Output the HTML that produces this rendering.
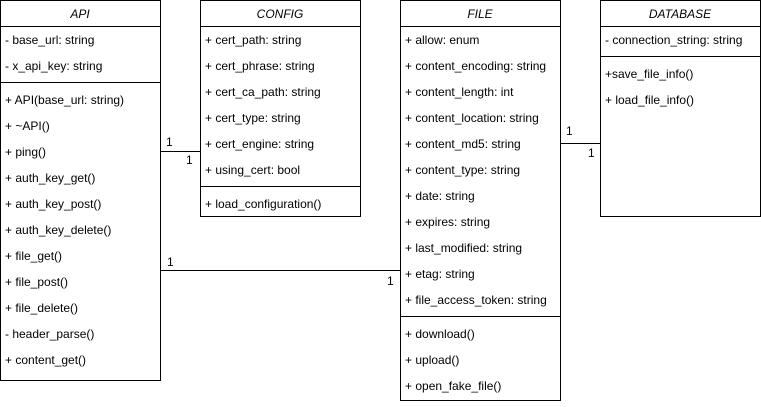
<!DOCTYPE html>
<html><head><style>
html,body{margin:0;padding:0;background:#fff;}
svg text{font-family:"Liberation Sans",Arial,sans-serif;font-size:12px;fill:#000;}
.h{font-style:italic;text-anchor:middle;}
</style></head><body>
<svg width="761" height="402" viewBox="0 0 761 402" xmlns="http://www.w3.org/2000/svg">
<g fill="#fff" stroke="#000" stroke-width="1">
<rect x="0.5" y="0.5" width="160" height="380"/>
<rect x="200.5" y="0.5" width="160" height="216"/>
<rect x="400.5" y="0.5" width="160" height="400"/>
<rect x="600.5" y="0.5" width="160" height="216"/>
</g>
<g stroke="#000" stroke-width="1">
<line x1="0" y1="26.5" x2="161" y2="26.5"/>
<line x1="0" y1="82.5" x2="161" y2="82.5"/>
<line x1="200" y1="26.5" x2="361" y2="26.5"/>
<line x1="200" y1="186.5" x2="361" y2="186.5"/>
<line x1="400" y1="26.5" x2="561" y2="26.5"/>
<line x1="400" y1="316.5" x2="561" y2="316.5"/>
<line x1="600" y1="26.5" x2="761" y2="26.5"/>
<line x1="600" y1="56.5" x2="761" y2="56.5"/>
<line x1="161" y1="151.5" x2="200" y2="151.5"/>
<line x1="161" y1="270.5" x2="400" y2="270.5"/>
<line x1="561" y1="143.5" x2="600" y2="143.5"/>
</g>
<text class="h" x="80" y="18">API</text>
<text class="h" x="280" y="18">CONFIG</text>
<text class="h" x="480" y="18">FILE</text>
<text class="h" x="680" y="18">DATABASE</text>
<g>
<text x="5" y="44">- base_url: string</text>
<text x="5" y="70">- x_api_key: string</text>
<text x="5" y="104">+ API(base_url: string)</text>
<text x="5" y="130">+ ~API()</text>
<text x="5" y="156">+ ping()</text>
<text x="5" y="182">+ auth_key_get()</text>
<text x="5" y="208">+ auth_key_post()</text>
<text x="5" y="234">+ auth_key_delete()</text>
<text x="5" y="260">+ file_get()</text>
<text x="5" y="286">+ file_post()</text>
<text x="5" y="312">+ file_delete()</text>
<text x="5" y="338">- header_parse()</text>
<text x="5" y="364">+ content_get()</text>

<text x="205" y="44">+ cert_path: string</text>
<text x="205" y="70">+ cert_phrase: string</text>
<text x="205" y="96">+ cert_ca_path: string</text>
<text x="205" y="122">+ cert_type: string</text>
<text x="205" y="148">+ cert_engine: string</text>
<text x="205" y="174">+ using_cert: bool</text>
<text x="205" y="208">+ load_configuration()</text>

<text x="405" y="44">+ allow: enum</text>
<text x="405" y="70">+ content_encoding: string</text>
<text x="405" y="96">+ content_length: int</text>
<text x="405" y="122">+ content_location: string</text>
<text x="405" y="148">+ content_md5: string</text>
<text x="405" y="174">+ content_type: string</text>
<text x="405" y="200">+ date: string</text>
<text x="405" y="226">+ expires: string</text>
<text x="405" y="252">+ last_modified: string</text>
<text x="405" y="278">+ etag: string</text>
<text x="405" y="304">+ file_access_token: string</text>
<text x="405" y="338">+ download()</text>
<text x="405" y="364">+ upload()</text>
<text x="405" y="390">+ open_fake_file()</text>

<text x="605" y="44">- connection_string: string</text>
<text x="605" y="78">+save_file_info()</text>
<text x="605" y="104">+ load_file_info()</text>

<text x="166" y="146">1</text>
<text x="186" y="164">1</text>
<text x="167" y="266">1</text>
<text x="387" y="285">1</text>
<text x="566" y="135">1</text>
<text x="588" y="157">1</text>
</g>
</svg>
</body></html>
